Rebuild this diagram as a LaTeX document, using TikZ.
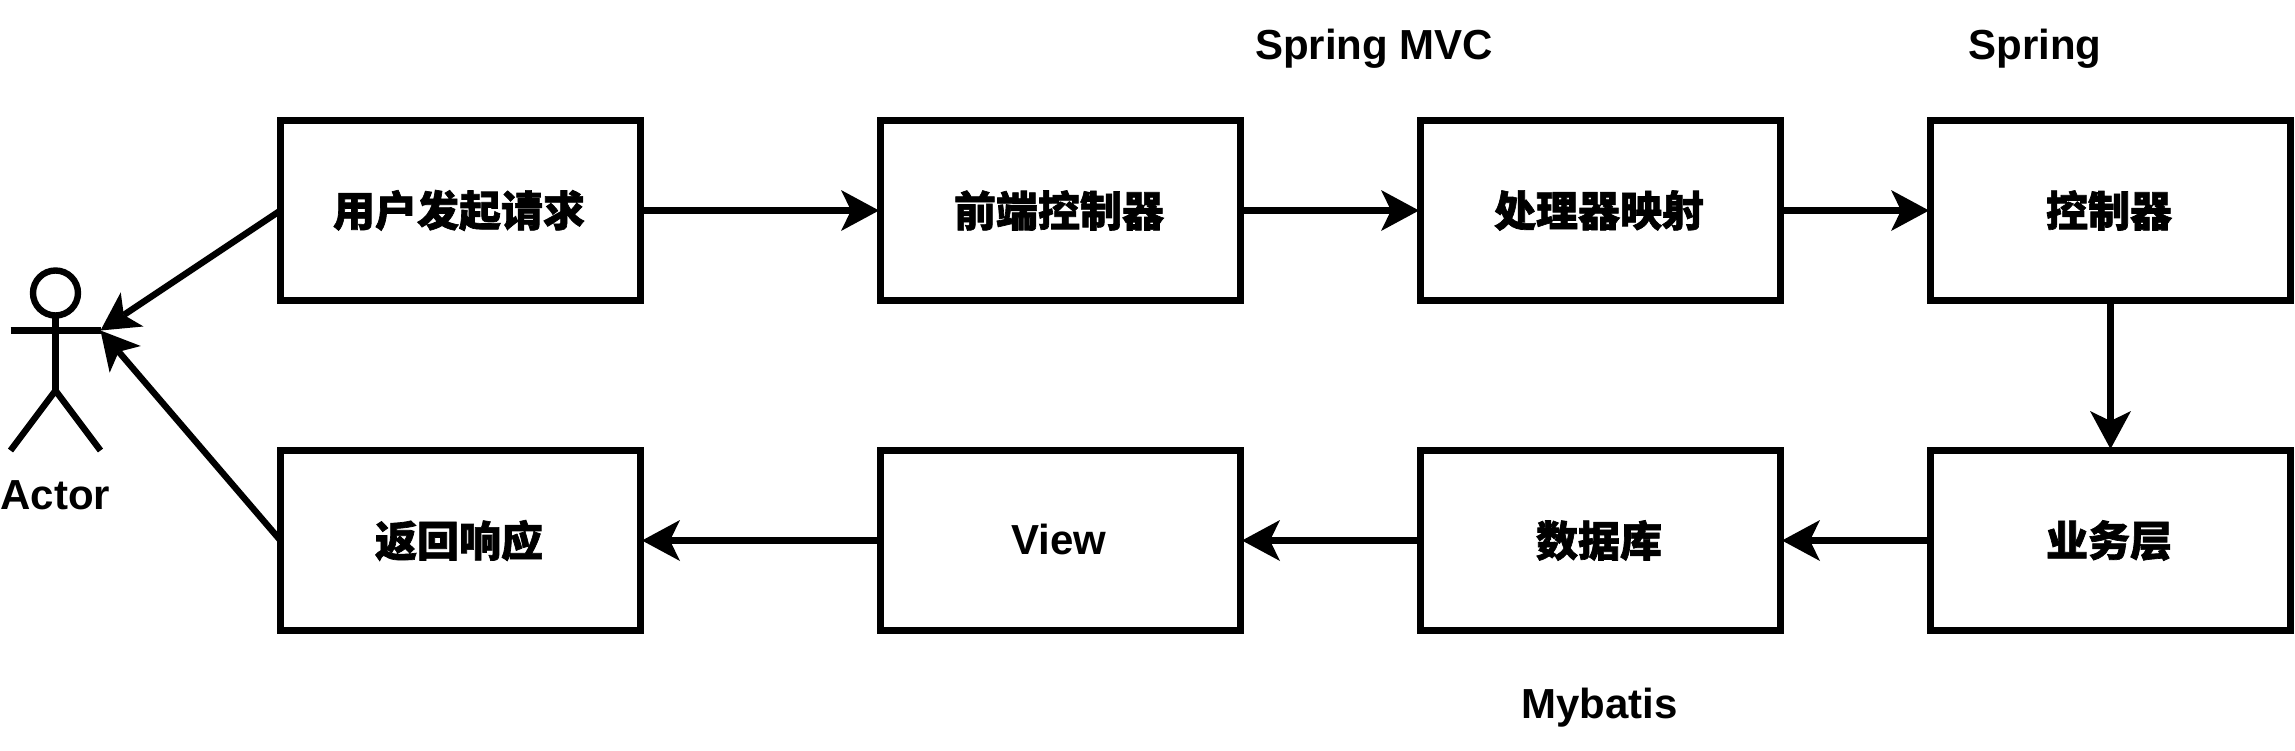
\documentclass[tikz,border=0pt]{standalone}
\usepackage{fontspec}
\setmainfont{Liberation Sans}
\newfontfamily\cjk[BoldFeatures={FakeBold=1.6}]{Noto Sans CJK SC}
\newcommand\zh[1]{\kern-3pt\raisebox{1.5pt}{\cjk #1}}
\usetikzlibrary{arrows.meta}
\tikzset{
  x=1pt,y=-1pt,
  proc/.style={draw=black,line width=6.4pt,fill=white,minimum width=360pt,minimum height=180pt,inner sep=0pt,outer sep=0pt,font=\fontsize{42}{50}\selectfont\bfseries},
  lbl/.style={inner sep=0pt,outer sep=0pt,font=\fontsize{42}{50}\selectfont\bfseries},
  conn/.style={draw=black,line width=6.4pt,-{Stealth[length=38pt,width=41pt,inset=10pt,line width=0pt]}},
  boxconn/.style={conn,shorten >=1.5pt},
  limb/.style={draw=black,line width=6.4pt}
}
\begin{document}
\begin{tikzpicture}
\useasboundingbox (0,0) rectangle (2295,750);
\node[proc] (req) at (460.5,210.5) {\zh{用户发起请求}};
\node[proc] (front) at (1060.5,210.5) {\zh{前端控制器}};
\node[proc] (map) at (1600.5,210.5) {\zh{处理器映射}};
\node[proc] (ctrl) at (2110.5,210.5) {\zh{控制器}};
\node[proc] (resp) at (460.5,540.5) {\zh{返回响应}};
\node[proc] (view) at (1060.5,540.5) {\kern-3pt\raisebox{1.5pt}{View}};
\node[proc] (db) at (1600.5,540.5) {\zh{数据库}};
\node[proc] (svc) at (2110.5,540.5) {\zh{业务层}};
\node[lbl] (smvc) at (1374,49) {Spring MVC};
\node[lbl] (spring) at (2035,49) {Spring};
\node[lbl] (mybatis) at (1599.5,708) {Mybatis};
\node[lbl] (actorlabel) at (55.5,495) {Actor};
% actor
\node[draw=black,line width=6.4pt,circle,minimum size=45pt,inner sep=0pt,outer sep=0pt] (head) at (55.5,293) {};
\coordinate (hip) at (55.5,390.5);
\coordinate (handl) at (10.5,330.5);
\coordinate (actor) at (100.5,330.5);
\coordinate (footl) at (10.5,450.5);
\coordinate (footr) at (100.5,450.5);
\draw[limb] (head.south) -- (hip);
\draw[limb] (handl) -- (actor);
\draw[limb] (footl) -- (hip) -- (footr);
% connectors
\draw[boxconn] (req.east) -- (front.west);
\draw[boxconn] (front.east) -- (map.west);
\draw[boxconn] (map.east) -- (ctrl.west);
\draw[boxconn] (ctrl.south) -- (svc.north);
\draw[boxconn] (svc.west) -- (db.east);
\draw[boxconn] (db.west) -- (view.east);
\draw[boxconn] (view.west) -- (resp.east);
\draw[conn] (req.west) -- (actor);
\draw[conn] (resp.west) -- (actor);
\end{tikzpicture}
\end{document}
